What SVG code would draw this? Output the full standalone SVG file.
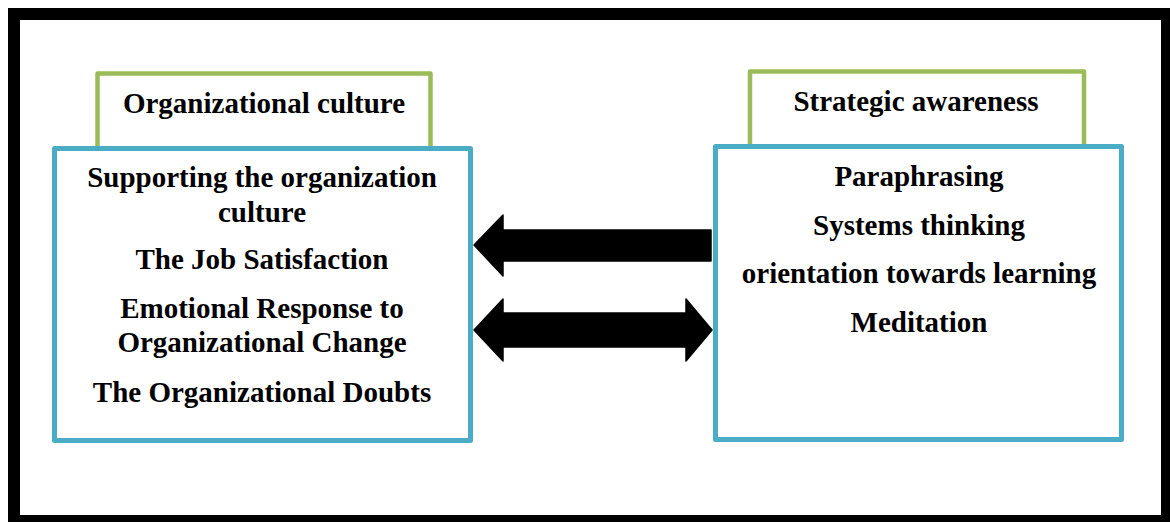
<svg xmlns="http://www.w3.org/2000/svg" width="1170" height="522" viewBox="0 0 1170 522">
<style>
.frame{fill:#fff;stroke:#000;stroke-width:12}
.hdr{fill:#fff;stroke:#9BBB59;stroke-width:4.5;stroke-linejoin:round}
.box{fill:#fff;stroke:#4BACC6;stroke-width:5;stroke-linejoin:round}
.t{font-family:"Liberation Serif","Times New Roman",serif;font-weight:bold;font-size:29px;fill:#000;text-anchor:middle}
.arr{fill:#000;stroke:#000;stroke-width:1.5;stroke-linejoin:round}
</style>
<rect width="1170" height="522" fill="#fff"/>
<rect class="frame" x="14" y="14" width="1153" height="507"/>
<g id="hdr-left">
<rect class="hdr" x="97.5" y="73.5" width="333" height="80"/>
<text class="t" x="264" y="113">Organizational culture</text>
</g>
<g id="hdr-right">
<rect class="hdr" x="750" y="71.5" width="334" height="80"/>
<text class="t" x="916" y="111">Strategic awareness</text>
</g>
<g id="box-left">
<rect class="box" x="54.5" y="148.5" width="416" height="292"/>
<text class="t" x="262" y="187">Supporting the organization</text>
<text class="t" x="262" y="222">culture</text>
<text class="t" x="262" y="269">The Job Satisfaction</text>
<text class="t" x="262" y="318">Emotional Response to</text>
<text class="t" x="262" y="352">Organizational Change</text>
<text class="t" x="262" y="402">The Organizational Doubts</text>
</g>
<g id="box-right">
<rect class="box" x="715.5" y="146.5" width="406" height="293"/>
<text class="t" x="919" y="186">Paraphrasing</text>
<text class="t" x="919" y="235">Systems thinking</text>
<text class="t" x="919" y="283">orientation towards learning</text>
<text class="t" x="919" y="332">Meditation</text>
</g>
<g id="connectors">
<polygon class="arr" points="474,245 503,215 503,230 711,230 711,261 503,261 503,276"/>
<polygon class="arr" points="474,330 503,299 503,313 686,313 686,299 712,330 686,361 686,347 503,347 503,361"/>
</g>
</svg>
